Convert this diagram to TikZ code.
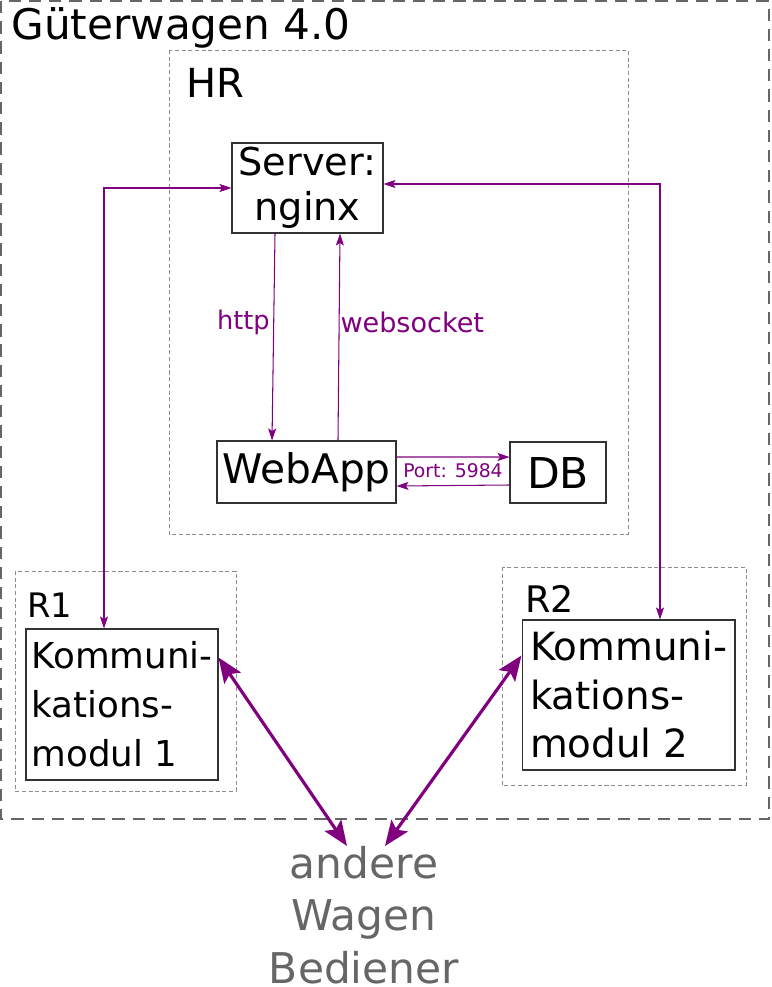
\documentclass[tikz,border=0pt]{standalone}
\usepackage{fontspec}
\setmainfont{DejaVu Sans}
\usetikzlibrary{arrows.meta}
\definecolor{link}{HTML}{800080}
\definecolor{frame}{HTML}{666666}
\newcommand\fsz[2]{\fontsize{#1}{#2}\selectfont}

\begin{document}
\begin{tikzpicture}[x=0.02cm,y=-0.02cm,
    box/.style={draw=black!80,line width=0.6pt,inner sep=0pt},
    group/.style={draw=black!45,line width=0.55pt,dash pattern=on 2.3pt off 1.5pt},
    label/.style={inner sep=0pt},
    wire/.style={draw=link,line width=0.6pt,{Stealth[length=2.4mm,width=1.6mm,inset=0.5mm]}-{Stealth[length=2.4mm,width=1.6mm,inset=0.5mm]}},
    tip/.style={draw=link,line width=0.6pt,-{Stealth[length=2.4mm,width=1.6mm,inset=0.5mm]}},
    fatwire/.style={draw=link,line width=1.8pt,{Stealth[length=5mm,width=4mm,inset=1mm]}-{Stealth[length=5mm,width=4mm,inset=1mm]}}]
  \useasboundingbox (0,0) rectangle (771,987);
  \draw[frame,line width=1.2pt,dash pattern=on 7pt off 4.5pt] (1,1) rectangle (769,819);
  \draw[group] (169,50) rectangle (628,534);
  \draw[group] (15,571) rectangle (236,791);
  \draw[group] (502,567) rectangle (746,785);

  \node[label,anchor=base west,font=\fsz{24}{29}] (car) at (11,39) {Güterwagen 4.0};
  \node[label,anchor=base west,font=\fsz{22.8}{27}] (hr) at (186,97) {HR};
  \node[label,anchor=base west,font=\fsz{19.2}{23}] (rone) at (27,617) {R1};
  \node[label,anchor=base west,font=\fsz{20.8}{25}] (rtwo) at (525,612) {R2};

  \node[box,align=center,minimum width=3.02cm,minimum height=1.8cm,font=\fsz{21.8}{25.5}] (server) at (307.5,188) {Server:\\nginx};
  \node[box,minimum width=3.58cm,minimum height=1.24cm,font=\fsz{23.2}{27}] (webapp) at (306.5,472) {WebApp};
  \node[box,minimum width=1.92cm,minimum height=1.22cm,font=\fsz{24.2}{28}] (db) at (558,472.5) {DB};
  \node[box,align=left,minimum width=3.84cm,minimum height=3.02cm,font=\fsz{20.3}{27.8}] (kone) at (122,704.5) {Kommuni-\\kations-\\modul 1};
  \node[box,align=left,minimum width=4.26cm,minimum height=3cm,font=\fsz{22.1}{27.6}] (ktwo) at (628.5,695) {Kommuni-\\kations-\\modul 2};
  \node[label,anchor=north,align=center,text=frame,font=\fsz{24.1}{29.8}] (others) at (364,846) {andere\\Wagen\\Bediener};

  \coordinate (lbend) at (104,188);
  \coordinate (rbend) at (660,184);

  \begin{scope}
    \draw[wire] (kone.north -| lbend) -- (lbend) -- (server.west);
    \draw[wire] (server.east |- rbend) -- (rbend) -- (ktwo.north -| rbend);
    \draw[tip] ([xshift=-0.65cm]server.south) -- ([xshift=-0.69cm]webapp.north)
      node[pos=0.43,left,inner sep=2pt,text=link,font=\fsz{14.6}{17}] (http) {http};
    \draw[tip] ([xshift=0.63cm]webapp.north) -- ([xshift=0.65cm]server.south)
      node[pos=0.57,right,inner sep=0.5pt,text=link,font=\fsz{15.4}{18}] (ws) {websocket};
    \draw[tip] ([yshift=0.3cm]webapp.east) -- ([yshift=0.31cm]db.west)
      node[midway,below,inner sep=3.4pt,text=link,font=\fsz{10.7}{13}] (port) {Port: 5984};
    \draw[tip] ([yshift=-0.25cm]db.west) -- ([yshift=-0.28cm]webapp.east);
    \draw[fatwire] ([yshift=-0.58cm]kone.north east) -- ([xshift=-0.34cm]others.north);
    \draw[fatwire] ([yshift=-0.72cm]ktwo.north west) -- ([xshift=0.42cm]others.north);
  \end{scope}
\end{tikzpicture}
\end{document}
